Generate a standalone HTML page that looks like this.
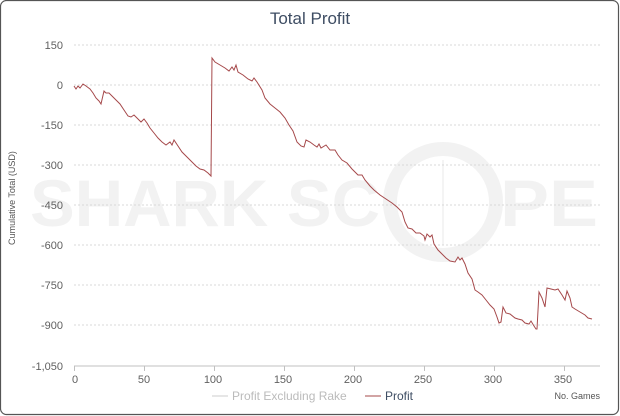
<!DOCTYPE html>
<html><head><meta charset="utf-8"><style>
body{margin:0;background:#fff;width:620px;height:416px;overflow:hidden}
svg{display:block}
text{font-family:"Liberation Sans",sans-serif}
</style></head><body>
<svg width="620" height="416" viewBox="0 0 620 416">
<rect x="0.5" y="0.5" width="618" height="414" rx="6" fill="#fff" stroke="#555" stroke-width="1.2"/>
<text x="310" y="24" text-anchor="middle" font-size="17" fill="#3e4d63">Total Profit</text>
<g fill="#f2f2f2" font-weight="bold" font-size="66">
<text x="30" y="226" textLength="350" lengthAdjust="spacingAndGlyphs">SHARK SC</text>
<text x="500" y="226" textLength="98" lengthAdjust="spacingAndGlyphs">PE</text>
</g>
<circle cx="443" cy="202" r="53" fill="none" stroke="#f2f2f2" stroke-width="14"/>
<line x1="443" y1="160" x2="443" y2="245" stroke="#eaeaea" stroke-width="1"/>
<g stroke="#d8d8d8" stroke-dasharray="2,2" stroke-width="1">
<line x1="74" y1="45" x2="600" y2="45"/><line x1="74" y1="85" x2="600" y2="85"/>
<line x1="74" y1="125" x2="600" y2="125"/><line x1="74" y1="165" x2="600" y2="165"/>
<line x1="74" y1="205" x2="600" y2="205"/><line x1="74" y1="245" x2="600" y2="245"/>
<line x1="74" y1="285" x2="600" y2="285"/><line x1="74" y1="325" x2="600" y2="325"/>
</g>
<line x1="74" y1="366" x2="600" y2="366" stroke="#c0c0c0"/>
<g stroke="#c0c0c0"><line x1="74.5" y1="366" x2="74.5" y2="371"/><line x1="144.5" y1="366" x2="144.5" y2="371"/><line x1="214.5" y1="366" x2="214.5" y2="371"/><line x1="284.5" y1="366" x2="284.5" y2="371"/><line x1="354.5" y1="366" x2="354.5" y2="371"/><line x1="424.5" y1="366" x2="424.5" y2="371"/><line x1="494.5" y1="366" x2="494.5" y2="371"/><line x1="564.5" y1="366" x2="564.5" y2="371"/></g>
<g font-size="11" fill="#606060" text-anchor="end">
<text x="63" y="49">150</text><text x="63" y="89">0</text><text x="63" y="129">-150</text><text x="63" y="169">-300</text><text x="63" y="209">-450</text><text x="63" y="249">-600</text><text x="63" y="289">-750</text><text x="63" y="329">-900</text><text x="63" y="370">-1,050</text>
</g>
<g font-size="11" fill="#606060" text-anchor="middle">
<text x="75" y="383">0</text><text x="144" y="383">50</text><text x="213" y="383">100</text><text x="283" y="383">150</text><text x="353" y="383">200</text><text x="423" y="383">250</text><text x="493" y="383">300</text><text x="563" y="383">350</text>
</g>
<text x="15" y="198" font-size="9" fill="#555" text-anchor="middle" transform="rotate(-90 15 198)">Cumulative Total (USD)</text>
<polyline fill="none" stroke="#a5484a" stroke-width="1" points="74,86 76,89 78,86 80,88 83,84 86,86 90,89 93,93 96,98 99,101 101,104 104,91 106,93 109,93 112,96 116,100 120,104 124,110 128,116 131,117 134,115 137,118 141,122 144,119 147,123 150,128 154,133 158,138 162,142 166,145 170,142 172,145 174,140 178,146 182,152 187,157 192,162 196,166 200,169 204,170 208,173 211,176 212,58 215,62 220,65 225,68 229,71 232,67 234,70 236,65 238,72 243,75 248,79 252,81 254,78 257,82 262,90 265,98 270,104 275,108 280,112 285,118 289,125 293,131 297,142 301,146 304,147 306,140 310,142 314,145 317,147 319,144 321,148 326,145 330,150 335,150 338,155 342,160 347,163 352,169 355,172 358,175 362,175 365,180 370,186 374,190 380,195 386,199 392,203 397,207 402,212 405,222 408,228 412,229 416,233 420,233 424,236 425,240 427,234 430,237 432,235 434,244 438,250 442,254 446,258 450,261 455,262 458,257 460,260 462,258 465,264 468,273 472,279 475,290 478,292 482,295 486,300 490,305 494,309 497,317 499,323 501,322 503,307 506,313 510,314 515,318 518,319 522,320 525,323 529,324 531,321 534,326 536,329 537,329 539,292 542,298 545,307 547,288 551,289 555,290 558,289 562,295 565,300 567,291 570,298 572,307 575,309 580,312 585,315 588,318 592,319"/>
<line x1="212" y1="396" x2="228" y2="396" stroke="#ccc"/>
<text x="232" y="400" font-size="12" fill="#bbb">Profit Excluding Rake</text>
<line x1="365" y1="396" x2="381" y2="396" stroke="#a5484a"/>
<text x="385" y="400" font-size="12" fill="#3e4d63">Profit</text>
<text x="600" y="399" font-size="9" fill="#555" text-anchor="end">No. Games</text>
</svg>
</body></html>
